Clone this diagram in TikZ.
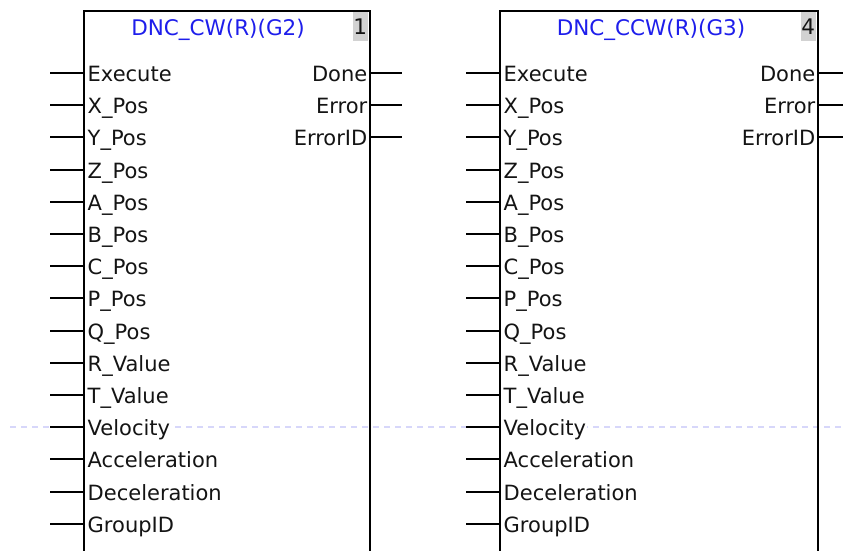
\documentclass[tikz,border=0pt]{standalone}
\usepackage{fontspec}
\setmainfont{DejaVu Sans}
\usepackage{tikz}
\usetikzlibrary{positioning,calc}
\definecolor{FbBlue}{RGB}{30,30,235}
\definecolor{FbGray}{RGB}{210,210,210}
\definecolor{FbText}{RGB}{20,20,20}
\definecolor{GuideBlue}{RGB}{215,215,250}
\tikzset{
	fb/.style={draw=black,line width=2pt,inner sep=0pt,anchor=north west,minimum height=600pt},
	fbnum/.style={fill=FbGray,inner sep=0pt,anchor=north east,minimum width=15pt,minimum height=30pt,
		text=FbText,font=\fontsize{21.5pt}{24pt}\selectfont},
	fbtitle/.style={inner sep=0pt,anchor=base,text=FbBlue,font=\fontsize{21.5pt}{24pt}\selectfont},
	pin/.style={draw=black,line width=2pt},
	inlbl/.style={inner sep=0.5pt,fill=white,anchor=base west,text=FbText,font=\fontsize{21pt}{24pt}\selectfont},
	outlbl/.style={inner sep=0.5pt,fill=white,anchor=base east,text=FbText,font=\fontsize{21pt}{24pt}\selectfont},
	guide/.style={draw=GuideBlue,line width=1.2pt,dash pattern=on 6pt off 5pt},
}

\begin{document}
\begin{tikzpicture}[x=1pt,y=-1pt]
	\useasboundingbox (0,0) rectangle (843,550);
	\clip (0,0) rectangle (843,550);
	% guide line behind the blocks
	\coordinate (gl-a) at (10,427);
	\coordinate (gl-b) at (850,427);
	\draw[guide] (gl-a) -- (gl-b);
	% block DNC_CW
	\node[fbnum] (cw-num) at (368,11) {1};
	\node[fb,minimum width=286pt] (cw) at (83,10) {};
	\node[fbtitle] (cw-title) at (218,35) {DNC\_CW(R)(G2)};
	\foreach \lbl [count=\i] in {Execute,X\_Pos,Y\_Pos,Z\_Pos,A\_Pos,B\_Pos,C\_Pos,P\_Pos,Q\_Pos,
		R\_Value,T\_Value,Velocity,Acceleration,Deceleration,GroupID} {
		\coordinate (cw-p\i) at (50,{round(73+32.2*(\i-1))});
		\draw[pin] (cw-p\i) -- (cw-p\i -| cw.west);
		\path (cw-p\i -| cw.west) ++(4,8.5) node[inlbl] (cw-in\i) {\lbl};
	}
	\foreach \lbl [count=\i] in {Done,Error,ErrorID} {
		\coordinate (cw-q\i) at (402,{round(73+32.2*(\i-1))});
		\draw[pin] (cw.east |- cw-q\i) -- (cw-q\i);
		\path (cw.east |- cw-q\i) ++(-3,8.5) node[outlbl] (cw-out\i) {\lbl};
	}
	% block DNC_CCW
	\node[fbnum] (ccw-num) at (816,11) {4};
	\node[fb,minimum width=318pt] (ccw) at (499,10) {};
	\node[fbtitle] (ccw-title) at (651,35) {DNC\_CCW(R)(G3)};
	\foreach \lbl [count=\i] in {Execute,X\_Pos,Y\_Pos,Z\_Pos,A\_Pos,B\_Pos,C\_Pos,P\_Pos,Q\_Pos,
		R\_Value,T\_Value,Velocity,Acceleration,Deceleration,GroupID} {
		\coordinate (ccw-p\i) at (466,{round(73+32.2*(\i-1))});
		\draw[pin] (ccw-p\i) -- (ccw-p\i -| ccw.west);
		\path (ccw-p\i -| ccw.west) ++(4,8.5) node[inlbl] (ccw-in\i) {\lbl};
	}
	\foreach \lbl [count=\i] in {Done,Error,ErrorID} {
		\coordinate (ccw-q\i) at (850,{round(73+32.2*(\i-1))});
		\draw[pin] (ccw.east |- ccw-q\i) -- (ccw-q\i);
		\path (ccw.east |- ccw-q\i) ++(-3,8.5) node[outlbl] (ccw-out\i) {\lbl};
	}
\end{tikzpicture}
\end{document}
